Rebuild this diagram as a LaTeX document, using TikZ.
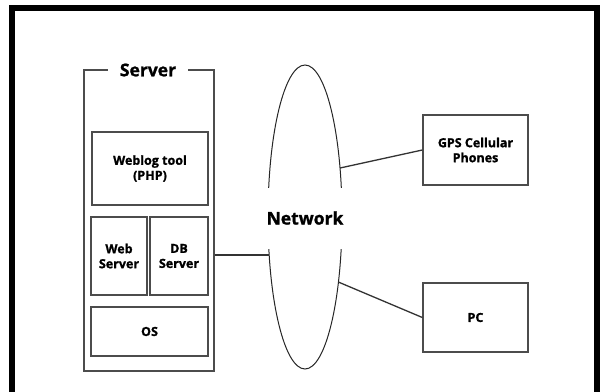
\documentclass[tikz,border=0pt]{standalone}
\usepackage{fontspec}
\setmainfont{Open Sans}[BoldFeatures={FakeBold=1.2}]
\begin{document}
\begin{tikzpicture}[x=1pt,y=-1pt,
  box/.style={draw=black!70, line width=1.3pt, fill=white, inner sep=0pt, align=center,
    font=\bfseries\fontsize{12.5}{15}\selectfont},
  lbl/.style={font=\bfseries\fontsize{17.5}{19}\selectfont, fill=white, inner sep=0pt},
  conn/.style={draw=black!80, line width=1.3pt}]
\useasboundingbox (0,0) rectangle (601,391);
\clip (0,0) rectangle (601,391);
\fill[white] (0,0) rectangle (601,391);
% outer frame
\draw[line width=6pt, line join=miter] (12,400) -- (12,8) -- (597,8) -- (597,400);
% server
\node[box, minimum width=130pt, minimum height=301pt] (server) at (149,220.5) {};
\node[lbl, minimum width=80pt, minimum height=16pt] (servertitle) at (148,70) {Server};
\node[box, minimum width=116pt, minimum height=73pt] (weblog) at (150,168.5) {Weblog tool\\(PHP)};
\node[box, minimum width=56pt, minimum height=78pt] (web) at (119,256) {Web\\Server};
\node[box, minimum width=58pt, minimum height=78pt] (db) at (179,256) {DB\\Server};
\node[box, minimum width=117pt, minimum height=49pt] (os) at (149.5,331.5) {OS};
% network
\draw[black!85, line width=1pt] (305,217) ellipse [x radius=37, y radius=152];
\node[lbl, minimum width=90pt, minimum height=61pt] (network) at (305,218) {Network};
\coordinate (netL) at ({305-37*0.968},255);
\coordinate (netG) at ({305+37*0.947},168);
\coordinate (netP) at ({305+37*0.90},282);
% right boxes
\node[box, minimum width=105pt, minimum height=70pt] (gps) at (475.5,150) {GPS Cellular\\Phones};
\node[box, minimum width=105pt, minimum height=69pt] (pc) at (475.5,317.5) {PC};
% connectors
\draw[conn] (server.east |- netL) -- (netL);
\draw[conn] (netG) -- (gps.west);
\draw[conn] (netP) -- (pc.west);
\end{tikzpicture}
\end{document}
